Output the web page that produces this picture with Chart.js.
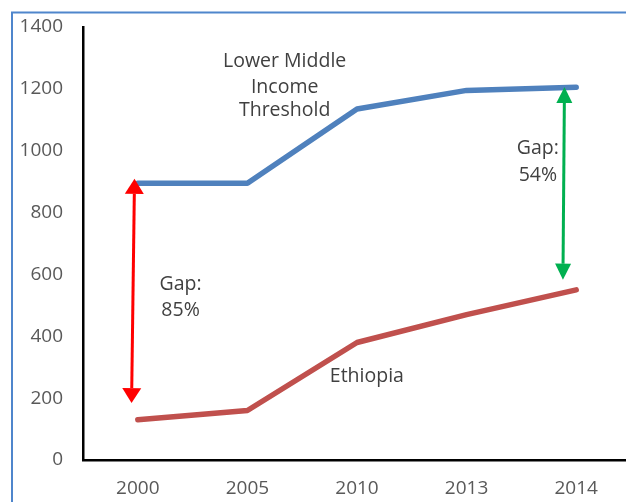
<!DOCTYPE html>
<html>
<head>
<meta charset="utf-8">
<script src="https://cdn.jsdelivr.net/npm/chart.js@4/dist/chart.umd.min.js"></script>
<style>
    html, body { margin: 0; padding: 0; background: #fff; overflow: hidden; }
    #wrap { width: 632px; height: 502px; }
</style>
</head>
<body>
<div id="wrap"><canvas id="lineChart" width="632" height="502"></canvas></div>
<script>
// Số liệu
var years = ['2000', '2005', '2010', '2013', '2014'];
var thresholdValues = [895, 895, 1135, 1195, 1205]; // Lower Middle Income Threshold
var ethiopiaValues = [130, 160, 380, 470, 550];
var yMin = 0, yMax = 1400, yStep = 200;

// Mũi tên khoảng cách: [x đầu trên, giá trị đầu trên, x đầu dưới, giá trị đầu dưới]
var redGap = [-0.03, 909, -0.057, 184];
var greenGap = [3.893, 1206, 3.879, 583];

// Chú thích: [x, giá trị, nội dung]
var notes = [
    [1.34, 1290, 'Lower Middle'],
    [1.34, 1203, 'Income'],
    [1.34, 1129, 'Threshold'],
    [0.39, 568, 'Gap:'],
    [0.39, 482, '85%'],
    [3.65, 1006, 'Gap:'],
    [3.65, 919, '54%'],
    [2.09, 271, 'Ethiopia']
];

var FONT = "'Open Sans', 'Noto Sans', sans-serif";

function GapChart() { }

GapChart.prototype = {
    chart: null,

    init: function () {
        var me = this;
        me.chart = new Chart(document.getElementById('lineChart'), {
            type: 'line',
            data: {
                labels: years,
                datasets: [
                    { data: thresholdValues, borderColor: '#4F81BD', borderWidth: 5.5 },
                    { data: ethiopiaValues, borderColor: '#C0504D', borderWidth: 5.5 }
                ]
            },
            options: {
                responsive: false,
                animation: false,
                layout: { padding: { top: 27, right: 1, left: 0, bottom: 0 } },
                elements: {
                    point: { radius: 0, hoverRadius: 0 },
                    line: { tension: 0, borderCapStyle: 'round', borderJoinStyle: 'round', fill: false }
                },
                plugins: { legend: { display: false }, tooltip: { enabled: false } },
                scales: {
                    x: {
                        offset: true,
                        grid: { display: false, drawTicks: false },
                        border: { color: '#000', width: 2.5 },
                        ticks: { color: '#595959', padding: 17, font: { family: FONT, size: 19 } },
                        afterFit: function (s) { s.height = 42; }
                    },
                    y: {
                        min: yMin, max: yMax,
                        // tickLength giữ khoảng cách nhãn, vạch không vẽ vì grid ẩn
                        grid: { display: false, drawTicks: true, tickLength: 20 },
                        border: { color: '#000', width: 2.5 },
                        ticks: {
                            stepSize: yStep, color: '#595959', padding: 0,
                            font: { family: FONT, size: 19 },
                            callback: function (v) { return String(v); }
                        },
                        afterFit: function (s) { s.width = 83; }
                    }
                }
            },
            plugins: [me.framePlugin(), me.notePlugin()]
        });
    },

    // Khung viền xanh bao quanh
    framePlugin: function () {
        return {
            id: 'frame',
            beforeDraw: function (chart) {
                var ctx = chart.ctx;
                ctx.save();
                ctx.strokeStyle = '#4f86cc';
                ctx.lineWidth = 2;
                ctx.strokeRect(12, 12.5, 700, 600);
                ctx.restore();
            }
        };
    },

    notePlugin: function () {
        var me = this;
        return {
            id: 'notes',
            afterDatasetsDraw: function (chart) {
                var ctx = chart.ctx, x = chart.scales.x, y = chart.scales.y;
                me.drawArrow(ctx, x, y, redGap, '#FF0000', 19, 15);
                me.drawArrow(ctx, x, y, greenGap, '#00B050', 16, 16);

                ctx.save();
                ctx.fillStyle = '#404040';
                ctx.font = '19.5px ' + FONT;
                ctx.textAlign = 'center';
                ctx.textBaseline = 'middle';
                notes.forEach(function (n) {
                    ctx.fillText(n[2], x.getPixelForValue(n[0]), y.getPixelForValue(n[1]));
                });
                ctx.restore();
            }
        };
    },

    // Mũi tên hai đầu
    drawArrow: function (ctx, xs, ys, a, color, headW, headL) {
        var x1 = xs.getPixelForValue(a[0]), y1 = ys.getPixelForValue(a[1]);
        var x2 = xs.getPixelForValue(a[2]), y2 = ys.getPixelForValue(a[3]);
        var len = Math.hypot(x2 - x1, y2 - y1);
        var ux = (x2 - x1) / len, uy = (y2 - y1) / len;
        var px = -uy, py = ux;

        ctx.save();
        ctx.strokeStyle = color;
        ctx.fillStyle = color;
        ctx.lineWidth = 3;
        ctx.beginPath();
        ctx.moveTo(x1 + ux * headL, y1 + uy * headL);
        ctx.lineTo(x2 - ux * headL, y2 - uy * headL);
        ctx.stroke();

        [[x1, y1, 1], [x2, y2, -1]].forEach(function (t) {
            var bx = t[0] + ux * headL * t[2], by = t[1] + uy * headL * t[2];
            ctx.beginPath();
            ctx.moveTo(t[0], t[1]);
            ctx.lineTo(bx + px * headW / 2, by + py * headW / 2);
            ctx.lineTo(bx - px * headW / 2, by - py * headW / 2);
            ctx.closePath();
            ctx.fill();
        });
        ctx.restore();
    }
};

new GapChart().init();
</script>
</body>
</html>
